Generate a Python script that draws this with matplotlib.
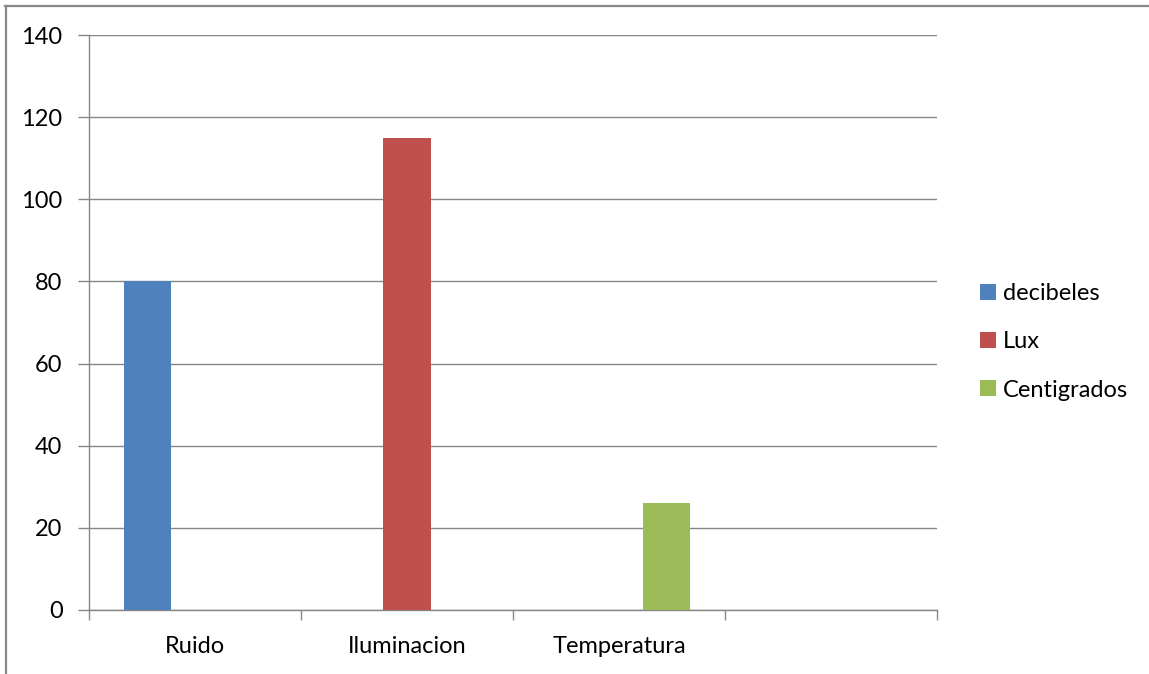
import numpy as np
import matplotlib
matplotlib.use("Agg")
import matplotlib.pyplot as plt
from matplotlib.patches import Patch
from matplotlib.lines import Line2D

plt.rcParams['font.family'] = ['Lato', 'DejaVu Sans']

# datos de la medicion
categorias = ['Ruido', 'Iluminacion', 'Temperatura', '']
series = ['decibeles', 'Lux', 'Centigrados']
decibeles = [80, np.nan, np.nan, np.nan]
lux = [np.nan, 115, np.nan, np.nan]
centigrados = [np.nan, np.nan, 26, np.nan]
colores = ['#4F81BD', '#C0504D', '#9BBB59']

W, H = 1149, 674
fs = 17
fig = plt.figure(figsize=(W / 100, H / 100), dpi=100)
ax = fig.add_axes([89 / W, 1 - 610 / H, (937 - 89) / W, (610 - 35) / H])

# barras agrupadas estilo Excel (ancho de intervalo 150%)
ancho = 1 / 4.5
x = np.arange(len(categorias))
valores = [decibeles, lux, centigrados]
for i, (vals, col) in enumerate(zip(valores, colores)):
    pos = x - 0.5 + 0.75 * ancho + ancho * i + ancho / 2
    ax.bar(pos, vals, width=ancho, color=col, zorder=3)

ax.set_xlim(-0.5, len(categorias) - 0.5)
ax.set_ylim(0, 140)
ax.set_yticks(range(0, 141, 20))
ax.yaxis.grid(True, color='#868686', linewidth=1.0, zorder=0)

# marcas del eje x en los limites de categoria, etiquetas centradas
ax.set_xticks(np.arange(-0.5, len(categorias)), minor=False)
ax.set_xticklabels([])
ax.set_xticks(x, minor=True)
ax.set_xticklabels(categorias, minor=True)
ax.tick_params(axis='x', which='minor', length=0, pad=19, labelsize=fs)
ax.tick_params(axis='x', which='major', length=7, color='#868686', width=1.0)
ax.tick_params(axis='y', length=8, color='#868686', width=1.0, labelsize=fs, pad=11)

for s in ['top', 'right']:
    ax.spines[s].set_visible(False)
for s in ['left', 'bottom']:
    ax.spines[s].set_color('#868686')
    ax.spines[s].set_linewidth(1.0)

# leyenda a la derecha
handles = [Patch(facecolor=c, edgecolor='none') for c in colores]
fig.legend(handles, series, loc='center left', bbox_to_anchor=(971 / W, 1 - 342 / H),
           frameon=False, fontsize=fs, handlelength=0.65, handleheight=0.65,
           handletextpad=0.3, labelspacing=1.15, borderaxespad=0)

# borde del grafico (solo superior e izquierdo visibles)
borde = dict(color='#888888', linewidth=1.6, transform=fig.transFigure)
fig.add_artist(Line2D([5 / W, 1], [1 - 5.5 / H, 1 - 5.5 / H], **borde))
fig.add_artist(Line2D([6 / W, 6 / W], [0, 1 - 5.5 / H], **borde))

fig.savefig('out.png', dpi=100, facecolor='white')
